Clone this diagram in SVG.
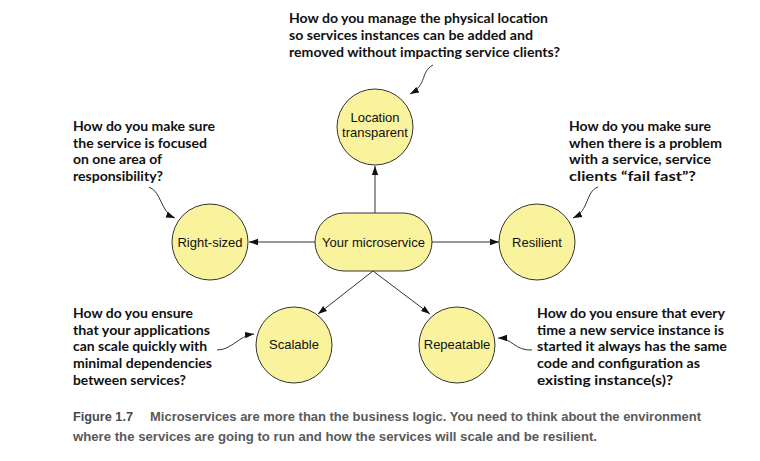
<svg xmlns="http://www.w3.org/2000/svg" width="760" height="461" viewBox="0 0 760 461">
<defs>
<style>
.node{fill:#f8f39c;stroke:#333;stroke-width:1}
.lbl{font-family:"Liberation Sans",Arial,sans-serif;font-size:13px;fill:#111;text-anchor:middle}
.q{font-family:Lato,"Liberation Sans",sans-serif;font-weight:bold;font-size:14px;fill:#111}
.cap{font-family:"Liberation Sans",Arial,sans-serif;font-weight:bold;font-size:12.5px;fill:#5a5a5a}
.edge{fill:none;stroke:#333;stroke-width:1}
</style>
<marker id="ah" viewBox="0 0 10 10" refX="10" refY="5" markerWidth="9" markerHeight="9" markerUnits="userSpaceOnUse" orient="auto">
<path d="M0,1.5 L10,5 L0,8.5 z" fill="#111"/>
</marker>
</defs>
<rect width="760" height="461" fill="#fff"/>

<g id="connectors">
<path class="edge" marker-end="url(#ah)" d="M375,213 L375,166"/>
<path class="edge" marker-end="url(#ah)" d="M315,242 L249,242"/>
<path class="edge" marker-end="url(#ah)" d="M432,242 L499,242"/>
<path class="edge" marker-end="url(#ah)" d="M373,271 L318,314"/>
<path class="edge" marker-end="url(#ah)" d="M373,271 L430,314"/>
<path class="edge" marker-end="url(#ah)" d="M433,65 C420,72 428,84 410,94"/>
<path class="edge" marker-end="url(#ah)" d="M149,187 C162,192 160,212 175,218"/>
<path class="edge" marker-end="url(#ah)" d="M598,187 C585,192 590,210 573,218"/>
<path class="edge" marker-end="url(#ah)" d="M217,350 C232,350 238,336 254,334"/>
<path class="edge" marker-end="url(#ah)" d="M532,350 C515,351 512,338 498,338"/>
</g>

<g id="location">
<circle class="node" cx="375" cy="127" r="38"/>
<text class="lbl" x="375" y="122">Location</text>
<text class="lbl" x="375" y="137">transparent</text>
</g>
<g id="microservice">
<rect class="node" x="315" y="213" width="117" height="58" rx="29" ry="29"/>
<text class="lbl" x="373.5" y="247">Your microservice</text>
</g>
<g id="rightsized">
<circle class="node" cx="210" cy="242" r="38"/>
<text class="lbl" x="210" y="247">Right-sized</text>
</g>
<g id="resilient">
<circle class="node" cx="537" cy="242" r="38"/>
<text class="lbl" x="537" y="247">Resilient</text>
</g>
<g id="scalable">
<circle class="node" cx="294" cy="345" r="38"/>
<text class="lbl" x="294" y="349">Scalable</text>
</g>
<g id="repeatable">
<circle class="node" cx="457" cy="345" r="38"/>
<text class="lbl" x="457" y="349">Repeatable</text>
</g>

<g id="q-location">
<text class="q" x="289" y="23" textLength="259" lengthAdjust="spacingAndGlyphs">How do you manage the physical location</text>
<text class="q" x="289" y="40" textLength="244" lengthAdjust="spacingAndGlyphs">so services instances can be added and</text>
<text class="q" x="289" y="57" textLength="271" lengthAdjust="spacingAndGlyphs">removed without impacting service clients?</text>
</g>
<g id="q-rightsized">
<text class="q" x="73" y="131" textLength="142" lengthAdjust="spacingAndGlyphs">How do you make sure</text>
<text class="q" x="73" y="148" textLength="134" lengthAdjust="spacingAndGlyphs">the service is focused</text>
<text class="q" x="73" y="164" textLength="89" lengthAdjust="spacingAndGlyphs">on one area of</text>
<text class="q" x="73" y="181" textLength="90" lengthAdjust="spacingAndGlyphs">responsibility?</text>
</g>
<g id="q-resilient">
<text class="q" x="569" y="131" textLength="142" lengthAdjust="spacingAndGlyphs">How do you make sure</text>
<text class="q" x="569" y="148" textLength="153" lengthAdjust="spacingAndGlyphs">when there is a problem</text>
<text class="q" x="569" y="164" textLength="142" lengthAdjust="spacingAndGlyphs">with a service, service</text>
<text class="q" x="569" y="181" textLength="127" lengthAdjust="spacingAndGlyphs">clients “fail fast”?</text>
</g>
<g id="q-scalable">
<text class="q" x="73" y="318" textLength="120" lengthAdjust="spacingAndGlyphs">How do you ensure</text>
<text class="q" x="73" y="335" textLength="137" lengthAdjust="spacingAndGlyphs">that your applications</text>
<text class="q" x="73" y="351" textLength="134" lengthAdjust="spacingAndGlyphs">can scale quickly with</text>
<text class="q" x="73" y="368" textLength="139" lengthAdjust="spacingAndGlyphs">minimal dependencies</text>
<text class="q" x="73" y="385" textLength="113" lengthAdjust="spacingAndGlyphs">between services?</text>
</g>
<g id="q-repeatable">
<text class="q" x="537" y="318" textLength="188" lengthAdjust="spacingAndGlyphs">How do you ensure that every</text>
<text class="q" x="537" y="335" textLength="187" lengthAdjust="spacingAndGlyphs">time a new service instance is</text>
<text class="q" x="537" y="351" textLength="190" lengthAdjust="spacingAndGlyphs">started it always has the same</text>
<text class="q" x="537" y="368" textLength="163" lengthAdjust="spacingAndGlyphs">code and configuration as</text>
<text class="q" x="537" y="385" textLength="136" lengthAdjust="spacingAndGlyphs">existing instance(s)?</text>
</g>

<g id="caption">
<text class="cap" x="73" y="421" textLength="60" lengthAdjust="spacingAndGlyphs" style="fill:#4a4a4a">Figure 1.7</text>
<text class="cap" x="150" y="421" textLength="551" lengthAdjust="spacingAndGlyphs">Microservices are more than the business logic. You need to think about the environment</text>
<text class="cap" x="73" y="441" textLength="524" lengthAdjust="spacingAndGlyphs">where the services are going to run and how the services will scale and be resilient.</text>
</g>
</svg>
